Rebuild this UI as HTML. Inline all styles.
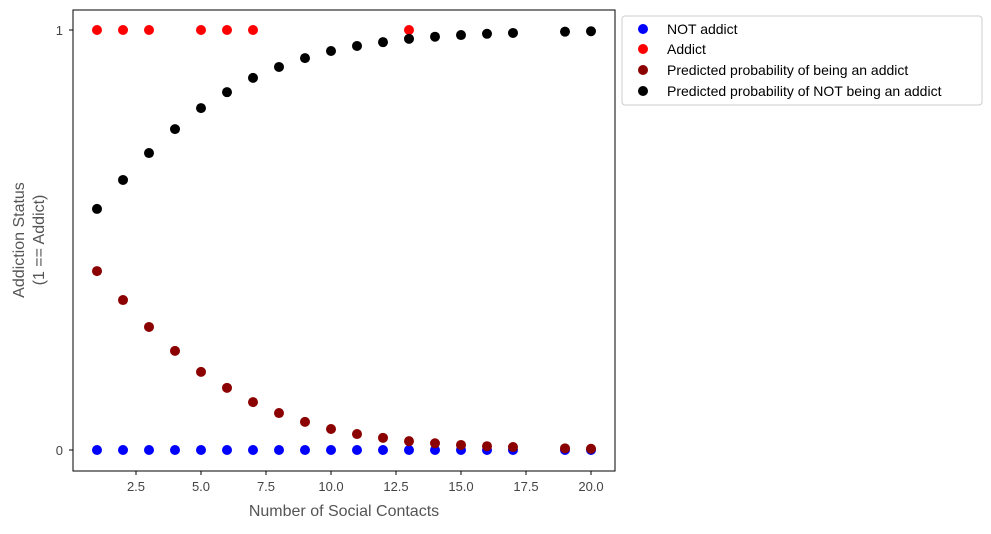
<!DOCTYPE html>
<html><head><meta charset="utf-8"><style>
body{margin:0;background:#fff;font-family:"Liberation Sans","DejaVu Sans",sans-serif;}
</style></head><body>
<svg id="chart" width="991" height="529" xmlns="http://www.w3.org/2000/svg">
<rect x="73" y="10" width="542" height="461" fill="#fff" stroke="#000" stroke-width="1"/>
<g id="ticks"></g>
<g id="marks"></g>
<text x="344" y="516" text-anchor="middle" font-size="16" fill="#555">Number of Social Contacts</text>
<g transform="translate(24,240) rotate(-90)">
<text x="0" y="0" text-anchor="middle" font-size="16" fill="#555">Addiction Status</text>
<text x="0" y="20" text-anchor="middle" font-size="16" fill="#555">(1 == Addict)</text>
</g>
<g>
<rect x="622" y="16" width="360" height="89" rx="3" fill="#fff" stroke="#ccc"/>
<circle cx="643" cy="29" r="5" fill="#0000ff"/>
<text x="667" y="34" font-size="14" fill="#000">NOT addict</text>
<circle cx="643" cy="49" r="5" fill="#ff0000"/>
<text x="667" y="54" font-size="14" fill="#000">Addict</text>
<circle cx="643" cy="70" r="5" fill="#8b0000"/>
<text x="667" y="75" font-size="14" fill="#000">Predicted probability of being an addict</text>
<circle cx="643" cy="91" r="5" fill="#000"/>
<text x="667" y="96" font-size="14" fill="#000">Predicted probability of NOT being an addict</text>
</g>
</svg>
<script>
const notAddictX=[1,2,3,4,5,6,7,8,9,10,11,12,13,14,15,16,17,19,20];
const addictX=[1,2,3,5,6,7,13];
const predX=[1,2,3,4,5,6,7,8,9,10,11,12,13,14,15,16,17,19,20];
const predAddict=[0.426,0.357,0.293,0.236,0.186,0.148,0.114,0.088,0.067,0.05,0.038,0.029,0.021,0.016,0.012,0.009,0.007,0.004,0.003];
const xTicks=[2.5,5.0,7.5,10.0,12.5,15.0,17.5,20.0];
const yTicks=[0,1];
const NS="http://www.w3.org/2000/svg";
function sx(v){return 97+(v-1)*26;}
function sy(v){return 450-v*420;}
const ticks=document.getElementById('ticks'),marks=document.getElementById('marks');
function mk(tag,attrs,parent){const e=document.createElementNS(NS,tag);for(const k in attrs)e.setAttribute(k,attrs[k]);parent.appendChild(e);return e;}
xTicks.forEach(t=>{
  const l=mk('line',{x1:sx(t),x2:sx(t),y1:471,y2:475,stroke:'#000'},ticks);
  
  
  const tx=mk('text',{x:sx(t),y:491,'text-anchor':'middle','font-size':13,fill:'#444'},ticks);
  tx.textContent=t.toFixed(1);
  
  
});
yTicks.forEach(t=>{
  const l=mk('line',{x1:69,x2:73,y1:sy(t),y2:sy(t),stroke:'#000'},ticks);
  
  
  const tx=mk('text',{x:63,y:sy(t)+5,'text-anchor':'end','font-size':13,fill:'#444'},ticks);
  tx.textContent=String(t);
  
  
});
function pt(x,y,c,name){
  const e=mk('circle',{cx:sx(x),cy:sy(y),r:5,fill:c},marks);
  
  
}
notAddictX.forEach(x=>pt(x,0,'#0000ff','point-not-addict'));
addictX.forEach(x=>pt(x,1,'#ff0000','point-addict'));
predX.forEach((x,i)=>pt(x,predAddict[i],'#8b0000','point-prob-addict'));
predX.forEach((x,i)=>pt(x,1-predAddict[i],'#000000','point-prob-not-addict'));
</script>
</body></html>
